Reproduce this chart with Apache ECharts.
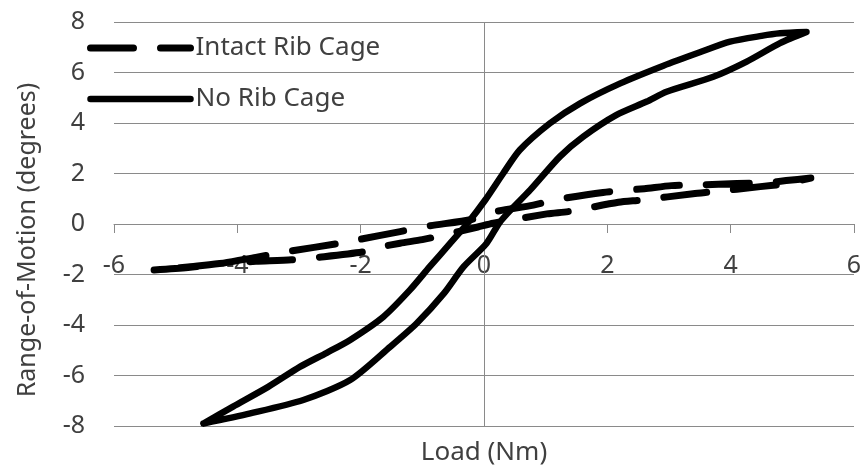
<!DOCTYPE html>
<html>
<head>
<meta charset="utf-8">
<script src="https://cdn.jsdelivr.net/npm/echarts@6/dist/echarts.min.js"></script>
<style>
html,body{margin:0;padding:0;background:#fff;}
#chart{width:866px;height:473px;}
</style>
</head>
<body>
<div id="chart"></div>
<script>
// ---- data ----
var seriesNames = ['Intact Rib Cage', 'No Rib Cage'];
var xTicks = [-6, -4, -2, 0, 2, 4, 6];
var yTicks = [-8, -6, -4, -2, 0, 2, 4, 6, 8];

// Intact Rib Cage: branch from negative tip to positive tip
var intactUpper = [[-5.35,-1.82],[-4.8,-1.72],[-4.3,-1.58],[-3.7,-1.32],[-3.15,-1.08],[-2.36,-0.77],[-2.0,-0.6],[-1.36,-0.3],[-0.9,-0.08],[-0.2,0.18],[0.1,0.45],[0.8,0.75],[1.2,0.98],[1.93,1.25],[2.6,1.4],[3.04,1.52],[3.5,1.55],[4.1,1.6],[4.6,1.64],[4.9,1.72],[5.3,1.82]];
// Intact Rib Cage: branch back from positive tip to negative tip
var intactLower = [[5.3,1.82],[4.9,1.6],[4.48,1.48],[3.72,1.28],[3.39,1.2],[2.56,0.95],[2.18,0.86],[1.39,0.5],[1.02,0.4],[0.15,0.03],[-0.1,-0.12],[-0.66,-0.44],[-1.0,-0.62],[-1.36,-0.76],[-1.7,-0.92],[-1.95,-1.1],[-2.69,-1.32],[-3.12,-1.42],[-3.7,-1.48],[-4.2,-1.55],[-4.8,-1.7],[-5.35,-1.82]];

// No Rib Cage: branch from negative tip up
var noRibUpper = [[-4.55,-7.9],[-4.07,-7.23],[-3.5,-6.45],[-2.98,-5.65],[-2.55,-5.1],[-2.17,-4.59],[-1.63,-3.67],[-1.2,-2.61],[-0.88,-1.69],[-0.55,-0.77],[-0.26,0.05],[0.02,0.95],[0.31,2.0],[0.58,2.93],[1.07,3.99],[1.56,4.78],[2.21,5.57],[2.91,6.27],[3.5,6.8],[3.99,7.22],[4.5,7.45],[4.8,7.55],[5.23,7.6]];
// No Rib Cage: branch back down
var noRibLower = [[5.23,7.6],[4.8,7.16],[4.26,6.43],[3.72,5.83],[2.96,5.24],[2.64,4.85],[2.15,4.32],[1.61,3.46],[1.23,2.67],[0.75,1.35],[0.45,0.6],[0.25,0.05],[0.04,-0.77],[-0.33,-1.69],[-0.65,-2.75],[-1.09,-3.93],[-1.52,-4.86],[-2.17,-6.18],[-2.93,-6.97],[-3.79,-7.5],[-4.55,-7.9]];

var FONT = 'Noto Sans';
var GRID = '#8a8a8a';
var TXT = '#404040';

var chart = echarts.init(document.getElementById('chart'), null, {renderer: 'canvas'});
chart.setOption({
  animation: false,
  backgroundColor: '#fff',
  grid: {left: 114, right: 12, top: 22, bottom: 47, containLabel: false, outerBoundsMode: 'none'},
  legend: {
    orient: 'vertical',
    left: 87,
    top: 33,
    padding: 0,
    itemWidth: 100,
    itemHeight: 14,
    itemGap: 21,
    data: seriesNames,
    lineStyle: {width: 'inherit'},
    itemStyle: {opacity: 0},
    textStyle: {fontFamily: FONT, fontSize: 26, color: TXT, lineHeight: 30},
    selectedMode: false
  },
  xAxis: {
    type: 'value',
    min: xTicks[0], max: xTicks[xTicks.length-1], interval: 2,
    position: 'bottom',
    offset: -202,
    name: 'Load (Nm)',
    nameLocation: 'middle',
    nameGap: 216,
    nameTextStyle: {fontFamily: FONT, fontSize: 26, color: TXT},
    axisLine: {onZero: false, lineStyle: {color: GRID, width: 1}},
    axisTick: {show: true, length: 9, lineStyle: {color: GRID, width: 1}},
    axisLabel: {margin: 29, fontFamily: FONT, fontSize: 25, color: TXT, showMinLabel: true, showMaxLabel: true},
    splitLine: {show: false}
  },
  yAxis: {
    type: 'value',
    min: yTicks[0], max: yTicks[yTicks.length-1], interval: 2,
    name: 'Range-of-Motion (degrees)',
    nameLocation: 'middle',
    nameGap: 74,
    nameTextStyle: {fontFamily: FONT, fontSize: 25, color: TXT, padding: [0, 32, 0, 0]},
    axisLine: {show: false, onZero: false},
    axisTick: {show: false},
    axisLabel: {margin: 29, fontFamily: FONT, fontSize: 25, color: TXT},
    splitLine: {show: true, lineStyle: {color: GRID, width: 1}}
  },
  series: [
    {
      name: seriesNames[0],
      type: 'line',
      z: 3,
      data: intactUpper.concat(intactLower.slice(1)),
      symbol: 'none',
      showSymbol: false,
      smooth: 0.25,
      lineStyle: {color: '#000', width: 7, type: [43, 27], cap: 'round', join: 'round'},
      itemStyle: {color: '#000'},
      markLine: {
        silent: true,
        symbol: ['none', 'none'],
        z: 1,
        label: {show: false},
        lineStyle: {color: GRID, width: 1, type: 'solid'},
        data: [{xAxis: 0}]
      }
    },
    {
      name: seriesNames[1],
      type: 'line',
      z: 3,
      data: noRibUpper.concat(noRibLower.slice(1)),
      symbol: 'none',
      showSymbol: false,
      smooth: 0.25,
      lineStyle: {color: '#000', width: 6.5, type: 'solid', cap: 'round', join: 'round'},
      itemStyle: {color: '#000'}
    }
  ]
});
</script>
</body>
</html>
